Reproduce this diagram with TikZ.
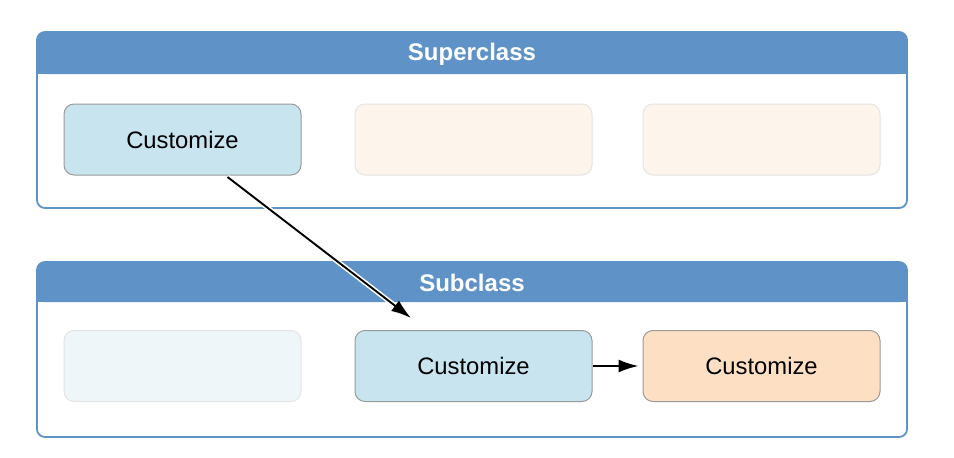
\documentclass[tikz,border=0pt]{standalone}
\usepackage{fontspec}
\setmainfont{Liberation Sans}
\usetikzlibrary{arrows.meta,calc}
\definecolor{hdrblue}{HTML}{5F93C8}
\definecolor{custblue}{HTML}{C8E4EF}
\definecolor{fadeblue}{HTML}{EEF6F9}
\definecolor{fadeorange}{HTML}{FDF4EC}
\definecolor{custorange}{HTML}{FDE0C4}
\definecolor{boxgray}{HTML}{9A9A9A}
\definecolor{fadegray}{HTML}{E4E4E4}
\tikzset{
  panel/.style={draw=hdrblue, line width=1.8pt, rounded corners=8pt},
  hdr/.style={fill=hdrblue},
  title/.style={text=white, font=\bfseries\fontsize{24}{28}\selectfont},
  methodbox/.style={draw=boxgray, line width=1pt, rounded corners=10pt, minimum width=237pt, minimum height=71pt, inner sep=0pt, font=\fontsize{23.8}{28}\selectfont},
  fadebox/.style={draw=fadegray, line width=1pt, rounded corners=10pt, minimum width=237pt, minimum height=71pt, inner sep=0pt},
  conn/.style={-{Latex[length=20pt,width=13pt]}, line width=1.9pt, black},
  halo/.style={line width=5pt, white}
}
\begin{document}
\begin{tikzpicture}[x=1pt,y=-1pt]
\useasboundingbox (0,0) rectangle (954,458);
% Superclass panel
\fill[hdr, rounded corners=8pt] (37,32) -- (907,32) -- (907,74) -- (37,74) -- cycle;
\fill[hdr] (37,50) rectangle (907,74);
\draw[panel] (37,32) rectangle (907,208);
\node[title] (suptitle) at (472,54) {Superclass};
% Subclass panel
\fill[hdr, rounded corners=8pt] (37,262) -- (907,262) -- (907,302) -- (37,302) -- cycle;
\fill[hdr] (37,280) rectangle (907,302);
\draw[panel] (37,262) rectangle (907,437);
\node[title] (subtitle) at (472,283) {Subclass};
% boxes
\node[methodbox, fill=custblue] (sa) at (182.5,139.5) {Customize};
\node[fadebox, fill=fadeorange] (sb) at (473.5,139.5) {};
\node[fadebox, fill=fadeorange] (sc) at (761.5,139.5) {};
\node[fadebox, fill=fadeblue] (ba) at (182.5,366) {};
\node[methodbox, fill=custblue] (bb) at (473.5,366) {Customize};
\node[methodbox, fill=custorange] (bc) at (761.5,366) {Customize};
% arrows
\coordinate (tipa) at (411,318);
\coordinate (starta) at ($(sa.south)+(45,1.5)$);
\draw[halo] (starta) -- ($(starta)!0.93!(tipa)$);
\draw[conn] (starta) -- (tipa);
\draw[conn] (bb.east) -- ($(bc.west)+(-4,0)$);
\end{tikzpicture}
\end{document}
